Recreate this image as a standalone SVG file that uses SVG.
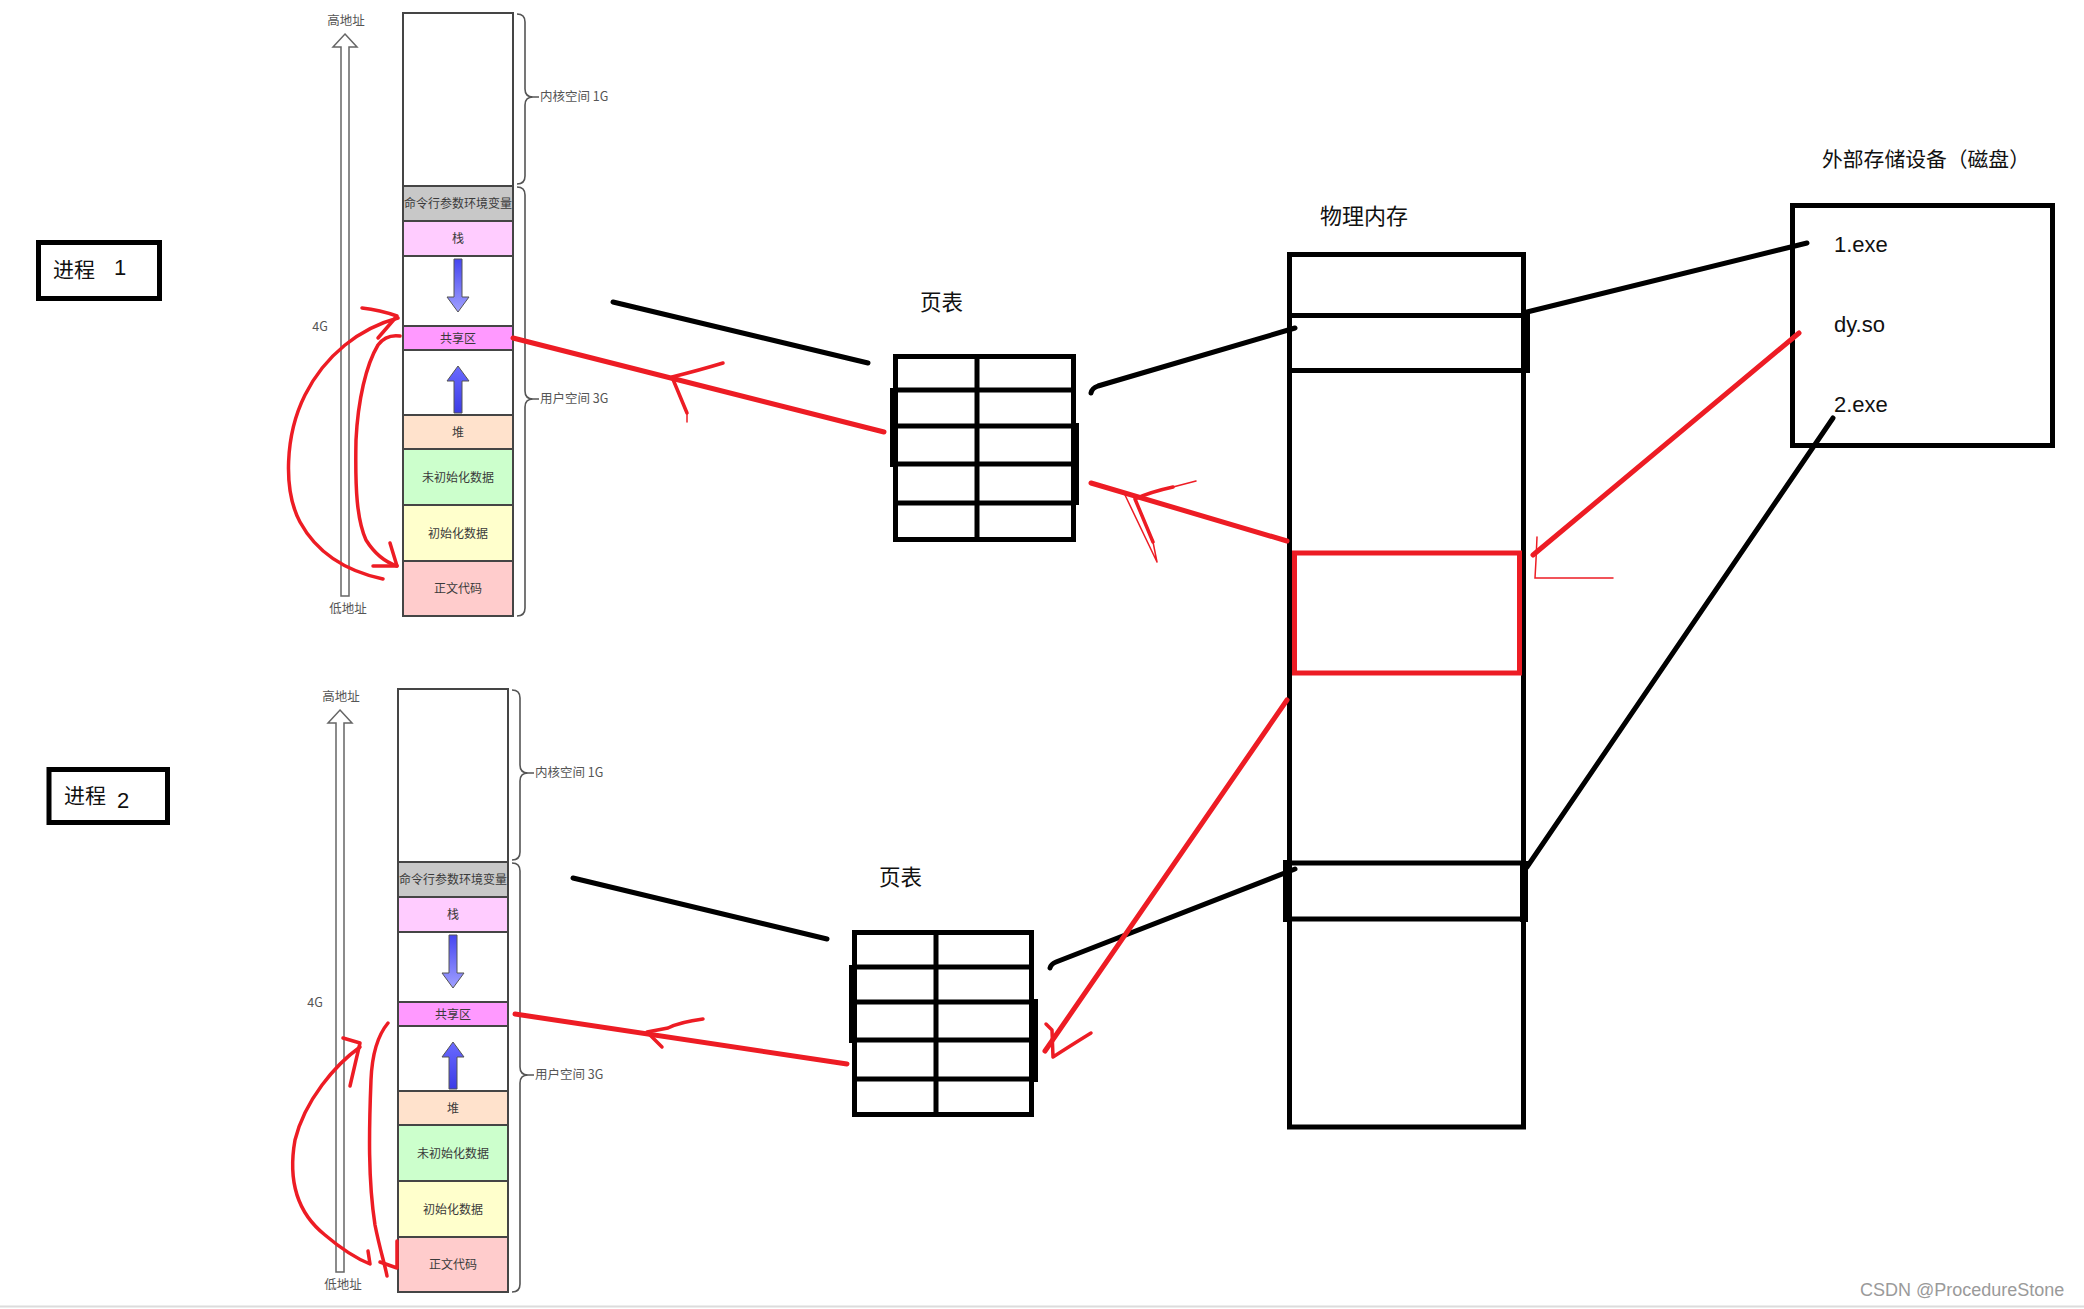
<svg xmlns="http://www.w3.org/2000/svg" width="2084" height="1309" viewBox="0 0 2084 1309">
<defs>
<linearGradient id="gDown" x1="0" y1="0" x2="0" y2="1"><stop offset="0" stop-color="#4646f0"/><stop offset="1" stop-color="#a0a0ff"/></linearGradient>
<linearGradient id="gUp" x1="0" y1="0" x2="0" y2="1"><stop offset="0" stop-color="#6a6aff"/><stop offset="1" stop-color="#3c3ce6"/></linearGradient>
<style>
.blk rect{stroke:#454545;stroke-width:2}
.sm{font-family:"Noto Sans CJK SC","Liberation Sans",sans-serif;font-size:12px;fill:#3a3a3a;text-anchor:middle}
.lbl{font-family:"Noto Sans CJK SC","Liberation Sans",sans-serif;font-size:12.5px;fill:#555}
.brace{fill:none;stroke:#555;stroke-width:1.6}
.hollow{fill:#fff;stroke:#666;stroke-width:1.5}
.blue{stroke:#555;stroke-width:1}
.cjk{font-family:"Noto Sans CJK SC","Liberation Sans",sans-serif;fill:#111}
.lat{font-family:"Liberation Sans","Noto Sans",sans-serif;fill:#111}
.box{fill:none;stroke:#000;stroke-width:5}
.k{fill:none;stroke:#000;stroke-width:5;stroke-linecap:round}
.r{fill:none;stroke:#ed1c24;stroke-width:5;stroke-linecap:round;stroke-linejoin:round}
.rh{fill:none;stroke:#ed1c24;stroke-width:3.5;stroke-linecap:round;stroke-linejoin:round}
.rt{fill:none;stroke:#ed1c24;stroke-width:1.5;stroke-linecap:round}
</style>
</defs>
<rect width="2084" height="1309" fill="#fff"/>

<!-- Process 1 virtual address space -->
<g id="proc1-vspace" transform="translate(403,13)">
  <g class="blk">
    <rect x="0" y="0" width="110" height="173" fill="#fff"/>
    <rect x="0" y="173" width="110" height="35" fill="#c8c8c8"/>
    <rect x="0" y="208" width="110" height="35" fill="#ffccff"/>
    <rect x="0" y="243" width="110" height="70" fill="#fff"/>
    <rect x="0" y="313" width="110" height="24" fill="#ff99ff"/>
    <rect x="0" y="337" width="110" height="65" fill="#fff"/>
    <rect x="0" y="402" width="110" height="34" fill="#ffe2cc"/>
    <rect x="0" y="436" width="110" height="56" fill="#ccffcc"/>
    <rect x="0" y="492" width="110" height="56" fill="#ffffcc"/>
    <rect x="0" y="548" width="110" height="55" fill="#ffcccc"/>
  </g>
  <path class="blue" fill="url(#gDown)" d="M51,246 L59,246 L59,284 L66,284 L55,299 L44,284 L51,284 Z"/>
  <path class="blue" fill="url(#gUp)" d="M55,353 L66,368 L59,368 L59,400 L51,400 L51,368 L44,368 Z"/>
  <text class="sm" x="55" y="195">命令行参数环境变量</text>
  <text class="sm" x="55" y="230">栈</text>
  <text class="sm" x="55" y="329.5">共享区</text>
  <text class="sm" x="55" y="423.5">堆</text>
  <text class="sm" x="55" y="468.5">未初始化数据</text>
  <text class="sm" x="55" y="524.5">初始化数据</text>
  <text class="sm" x="55" y="580">正文代码</text>
  <path class="hollow" d="M-58,21 L-46,34 L-54,34 L-54,583 L-62,583 L-62,34 L-70,34 Z"/>
  <text class="lbl" x="-57" y="12" text-anchor="middle">高地址</text>
  <text class="lbl" x="-55" y="600" text-anchor="middle">低地址</text>
  <text class="lbl" x="-83" y="318" text-anchor="middle">4G</text>
  <path class="brace" d="M114,1 Q122,1 122,9 L122,76 Q122,84 130,84 L136,84 M130,84 Q122,84 122,92 L122,163 Q122,171 114,171"/>
  <path class="brace" d="M114,174 Q122,174 122,182 L122,378 Q122,386 130,386 L136,386 M130,386 Q122,386 122,394 L122,595 Q122,603 114,603"/>
  <text class="lbl" x="137" y="88">内核空间 1G</text>
  <text class="lbl" x="137" y="390">用户空间 3G</text>
</g>

<!-- Process 2 virtual address space -->
<g id="proc2-vspace" transform="translate(398,689)">
  <g class="blk">
    <rect x="0" y="0" width="110" height="173" fill="#fff"/>
    <rect x="0" y="173" width="110" height="35" fill="#c8c8c8"/>
    <rect x="0" y="208" width="110" height="35" fill="#ffccff"/>
    <rect x="0" y="243" width="110" height="70" fill="#fff"/>
    <rect x="0" y="313" width="110" height="24" fill="#ff99ff"/>
    <rect x="0" y="337" width="110" height="65" fill="#fff"/>
    <rect x="0" y="402" width="110" height="34" fill="#ffe2cc"/>
    <rect x="0" y="436" width="110" height="56" fill="#ccffcc"/>
    <rect x="0" y="492" width="110" height="56" fill="#ffffcc"/>
    <rect x="0" y="548" width="110" height="55" fill="#ffcccc"/>
  </g>
  <path class="blue" fill="url(#gDown)" d="M51,246 L59,246 L59,284 L66,284 L55,299 L44,284 L51,284 Z"/>
  <path class="blue" fill="url(#gUp)" d="M55,353 L66,368 L59,368 L59,400 L51,400 L51,368 L44,368 Z"/>
  <text class="sm" x="55" y="195">命令行参数环境变量</text>
  <text class="sm" x="55" y="230">栈</text>
  <text class="sm" x="55" y="329.5">共享区</text>
  <text class="sm" x="55" y="423.5">堆</text>
  <text class="sm" x="55" y="468.5">未初始化数据</text>
  <text class="sm" x="55" y="524.5">初始化数据</text>
  <text class="sm" x="55" y="580">正文代码</text>
  <path class="hollow" d="M-58,21 L-46,34 L-54,34 L-54,583 L-62,583 L-62,34 L-70,34 Z"/>
  <text class="lbl" x="-57" y="12" text-anchor="middle">高地址</text>
  <text class="lbl" x="-55" y="600" text-anchor="middle">低地址</text>
  <text class="lbl" x="-83" y="318" text-anchor="middle">4G</text>
  <path class="brace" d="M114,1 Q122,1 122,9 L122,76 Q122,84 130,84 L136,84 M130,84 Q122,84 122,92 L122,163 Q122,171 114,171"/>
  <path class="brace" d="M114,174 Q122,174 122,182 L122,378 Q122,386 130,386 L136,386 M130,386 Q122,386 122,394 L122,595 Q122,603 114,603"/>
  <text class="lbl" x="137" y="88">内核空间 1G</text>
  <text class="lbl" x="137" y="390">用户空间 3G</text>
</g>

<!-- Process labels -->
<g id="proc1-label">
  <rect class="box" x="38.5" y="242.5" width="121" height="56"/>
  <text class="cjk" x="53" y="277" font-size="21">进程</text>
  <text class="lat" x="114" y="275" font-size="22">1</text>
</g>
<g id="proc2-label">
  <rect class="box" x="49" y="769.5" width="118.5" height="53"/>
  <text class="cjk" x="64" y="803" font-size="21">进程</text>
  <text class="lat" x="117" y="808" font-size="22">2</text>
</g>

<!-- Page table 1 -->
<g id="pagetable1">
  <text class="cjk" x="920" y="310" font-size="21.5">页表</text>
  <rect class="box" x="895.5" y="356.5" width="178" height="183"/>
  <path fill="none" stroke="#000" stroke-width="5" d="M895,390 H1073 M895,426 H1073 M895,464 H1073 M895,503 H1073 M977,356 V540"/>
  <rect x="890" y="388" width="6" height="79" fill="#000"/>
  <rect x="1072" y="423" width="7" height="82" fill="#000"/>
</g>

<!-- Page table 2 -->
<g id="pagetable2">
  <text class="cjk" x="879" y="885" font-size="21.5">页表</text>
  <rect class="box" x="854.5" y="932.5" width="177" height="182"/>
  <path fill="none" stroke="#000" stroke-width="5" d="M854,967 H1031 M854,1002 H1031 M854,1040 H1031 M854,1079 H1031 M936,932 V1115"/>
  <rect x="849" y="965" width="6" height="78" fill="#000"/>
  <rect x="1030" y="999" width="8" height="83" fill="#000"/>
</g>

<!-- Physical memory -->
<g id="physmem">
  <text class="cjk" x="1320" y="224" font-size="22">物理内存</text>
  <rect class="box" x="1289.5" y="254.5" width="234" height="872.5"/>
  <path fill="none" stroke="#000" stroke-width="5" d="M1289,315.5 H1524 M1289,370.5 H1524 M1289,863 H1524 M1289,919 H1524"/>
  <rect x="1521" y="313" width="9" height="60" fill="#000"/>
  <rect x="1283" y="860" width="9" height="62" fill="#000"/>
  <rect x="1520" y="861" width="8" height="61" fill="#000"/>
  <rect x="1294.5" y="553" width="225" height="120" fill="none" stroke="#ed1c24" stroke-width="5"/>
</g>

<!-- External storage -->
<g id="disk">
  <text class="cjk" x="1822" y="167" font-size="20.8">外部存储设备（磁盘）</text>
  <rect class="box" x="1792.5" y="205.5" width="260" height="240"/>
  <text class="lat" x="1834" y="252" font-size="22">1.exe</text>
  <text class="lat" x="1834" y="332" font-size="22">dy.so</text>
  <text class="lat" x="1834" y="412" font-size="22">2.exe</text>
</g>

<!-- Connectors -->
<g id="connectors">
  <!-- black mappings -->
  <line class="k" x1="613" y1="302" x2="868" y2="363"/>
  <line class="k" x1="573" y1="878" x2="827" y2="939"/>
  <path class="k" d="M1091,393 Q1092,388 1098,386 L1295,328"/>
  <path class="k" d="M1050,968 Q1051,964 1056,962 L1295,869"/>
  <line class="k" x1="1527" y1="312" x2="1807" y2="243"/>
  <line class="k" x1="1527" y1="867" x2="1833" y2="418"/>

  <!-- red: shared area to page tables -->
  <line class="r" x1="513" y1="338" x2="884" y2="432"/>
  <path class="rh" d="M723,363 Q700,370 672,377 L687,413"/>
  <path class="rt" d="M687,413 L687,422"/>
  <line class="r" x1="515" y1="1014" x2="847" y2="1064"/>
  <path class="rh" d="M703,1019 Q680,1022 668,1028 L647,1032 L662,1047"/>

  <!-- red: physical memory to page tables -->
  <line class="r" x1="1287" y1="541" x2="1091" y2="483"/>
  <path class="rh" d="M1173,487 Q1150,492 1135,499 L1153,542"/>
  <path class="rt" d="M1173,487 L1196,481 M1153,542 L1157,562 M1125,495 L1157,562"/>
  <line class="r" x1="1287" y1="700" x2="1045" y2="1051"/>
  <path class="rh" d="M1091,1033 Q1070,1046 1053,1057 L1052,1030 L1046,1024"/>

  <!-- red: dy.so to physical memory -->
  <line class="r" x1="1533" y1="555" x2="1799" y2="333"/>
  <path class="rt" d="M1537,537 L1536,560 L1535,578 L1613,578"/>

  <!-- red hand-drawn curves, process 1 -->
  <path class="rh" d="M398,318 C360,328 325,355 305,395 C285,435 283,490 300,522 C318,555 350,572 383,579"/>
  <path class="rh" d="M362,308 Q380,310 397,316 L378,338"/>
  <path class="rh" d="M400,336 Q386,334 378,345 C366,365 358,400 356,440 C355,490 357,520 366,540 C376,556 388,563 397,566"/>
  <path class="rh" d="M373,566 L397,566 L390,543"/>

  <!-- red hand-drawn curves, process 2 -->
  <path class="rh" d="M360,1047 C335,1065 305,1100 295,1140 C287,1185 300,1215 325,1235 C345,1252 360,1260 370,1264 L368,1251"/>
  <path class="rh" d="M343,1038 L360,1043 L350,1086"/>
  <path class="rh" d="M388,1023 C378,1035 372,1055 371,1080 C369,1130 368,1180 375,1225 C380,1250 385,1265 387,1276"/>
  <path class="rh" d="M397,1241 L397,1268 L380,1262"/>
</g>

<line x1="0" y1="1306.5" x2="2084" y2="1306.5" stroke="#dcdcdc" stroke-width="2"/>
<text x="1860" y="1296" font-family="Liberation Sans, sans-serif" font-size="18" fill="#9a9a9a">CSDN @ProcedureStone</text>
</svg>
